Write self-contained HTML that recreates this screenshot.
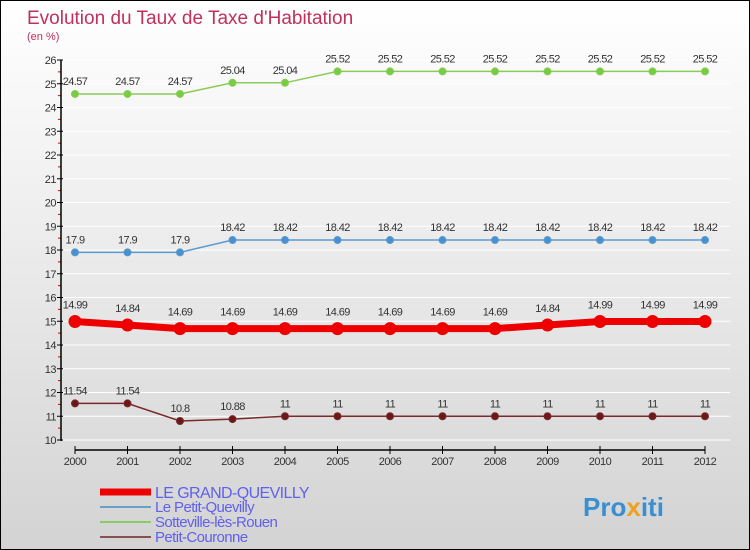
<!DOCTYPE html>
<html><head><meta charset="utf-8"><style>
html,body{margin:0;padding:0}
body{width:750px;height:550px;overflow:hidden;font-family:"Liberation Sans",sans-serif}
#wrap{position:absolute;left:0;top:0;width:748px;height:548px;border:1px solid #000;background:linear-gradient(#ffffff 0%,#f0f0f0 35%,#d3d3d3 100%)}
</style></head><body>
<div id="wrap">
<svg id="chart" width="750" height="550" style="position:absolute;left:-1px;top:-1px">
<text x="27" y="24" font-size="19" fill="#c0305a">Evolution du Taux de Taxe d'Habitation</text>
<text x="27" y="40" font-size="11" fill="#c0305a">(en %)</text>
<g id="axes"></g><g id="series"></g><g id="legend"></g>
<text x="583" y="516" font-size="26" font-weight="bold" fill="#3a8fd0">Pro<tspan fill="#f0a020">x</tspan>iti</text>
</svg>
</div>
<script>
const years=["2000","2001","2002","2003","2004","2005","2006","2007","2008","2009","2010","2011","2012"];
const yTicks=[10,11,12,13,14,15,16,17,18,19,20,21,22,23,24,25,26];
const grandQuevilly=[14.99,14.84,14.69,14.69,14.69,14.69,14.69,14.69,14.69,14.84,14.99,14.99,14.99];
const petitQuevilly=[17.9,17.9,17.9,18.42,18.42,18.42,18.42,18.42,18.42,18.42,18.42,18.42,18.42];
const sotteville=[24.57,24.57,24.57,25.04,25.04,25.52,25.52,25.52,25.52,25.52,25.52,25.52,25.52];
const petitCouronne=[11.54,11.54,10.8,10.88,11,11,11,11,11,11,11,11,11];
const seriesNames=["LE GRAND-QUEVILLY","Le Petit-Quevilly","Sotteville-lès-Rouen","Petit-Couronne"];
const NS="http://www.w3.org/2000/svg";
const xS=i=>75+i*52.5;
const yS=v=>440-(v-10)*23.75;
function mk(tag,attrs,parent,txt){const e=document.createElementNS(NS,tag);for(const k in attrs)e.setAttribute(k,attrs[k]);if(txt!==undefined)e.textContent=txt;parent.appendChild(e);return e;}
const axes=document.getElementById('axes');
yTicks.forEach(t=>{
 const g=mk('line',{x1:61,x2:730,y1:yS(t),y2:yS(t),stroke:'#ffffff','stroke-width':1},axes);
 
 
 const tk=mk('line',{x1:57,x2:63,y1:yS(t),y2:yS(t),stroke:'#000'},axes);
 
 
 const lb=mk('text',{x:56,y:yS(t)+4,'font-size':11,fill:'#333','text-anchor':'end','letter-spacing':'-0.5'},axes,String(t));
 
 
 if(t<26){const m=mk('line',{x1:58,x2:61,y1:yS(t+0.5),y2:yS(t+0.5),stroke:'#e00000'},axes);
 
 }
});
const ya=mk('line',{x1:61,x2:61,y1:60,y2:441,stroke:'#000','stroke-width':1.5},axes);


const xa=mk('line',{x1:75,x2:705,y1:450,y2:450,stroke:'#000','stroke-width':1.5},axes);


years.forEach((y,i)=>{
 const tk=mk('line',{x1:xS(i),x2:xS(i),y1:446,y2:454,stroke:'#000'},axes);
 
 
 const lb=mk('text',{x:xS(i),y:465,'font-size':11,fill:'#333','text-anchor':'middle','letter-spacing':'-0.5'},axes,y);
 
 
});
const ser=document.getElementById('series');
function draw(vals,color,lw,r,fill,name,lblFmt){
 const g=mk('g',{},ser);
 
 
 const pl=mk('polyline',{points:vals.map((v,i)=>xS(i)+','+yS(v)).join(' '),fill:'none',stroke:color,'stroke-width':lw},g);
 
 
 vals.forEach((v,i)=>{
  const c=mk('circle',{cx:xS(i),cy:yS(v),r:r,fill:fill,stroke:color,'stroke-width':1},g);
  
  
  const t=mk('text',{x:xS(i),y:yS(v)-lblFmt,'font-size':11,fill:'#333','text-anchor':'middle','letter-spacing':'-0.6'},g,String(v));
  
  
 });
}
draw(sotteville,'#88cc55',1.5,3.5,'#77cc44','sotteville-series',9);
draw(petitQuevilly,'#5a9ad0',1.5,3.5,'#4a90d0','petit-quevilly-series',9);
draw(petitCouronne,'#7a2a2a',1.5,3.5,'#6a1818','petit-couronne-series',9);
draw(grandQuevilly,'#ee0000',7,6,'#ee0000','grand-quevilly-series',13);
const leg=document.getElementById('legend');
const lc=['#ee0000','#6aa0c8','#88cc66','#8a5050'],lw=[7,2,2,2];
seriesNames.forEach((n,i)=>{
 const y=492+i*15;
 const g=mk('g',{},leg);
 
 
 const l=mk('line',{x1:100,x2:151,y1:y,y2:y,stroke:lc[i],'stroke-width':lw[i]},g);
 
 
 const t=mk('text',{x:155,y:y+(i==0?6:5),'font-size':i==0?16:15,fill:'#6060ee','letter-spacing':'-0.6'},g,n);
 
 
});
</script>
</body></html>
